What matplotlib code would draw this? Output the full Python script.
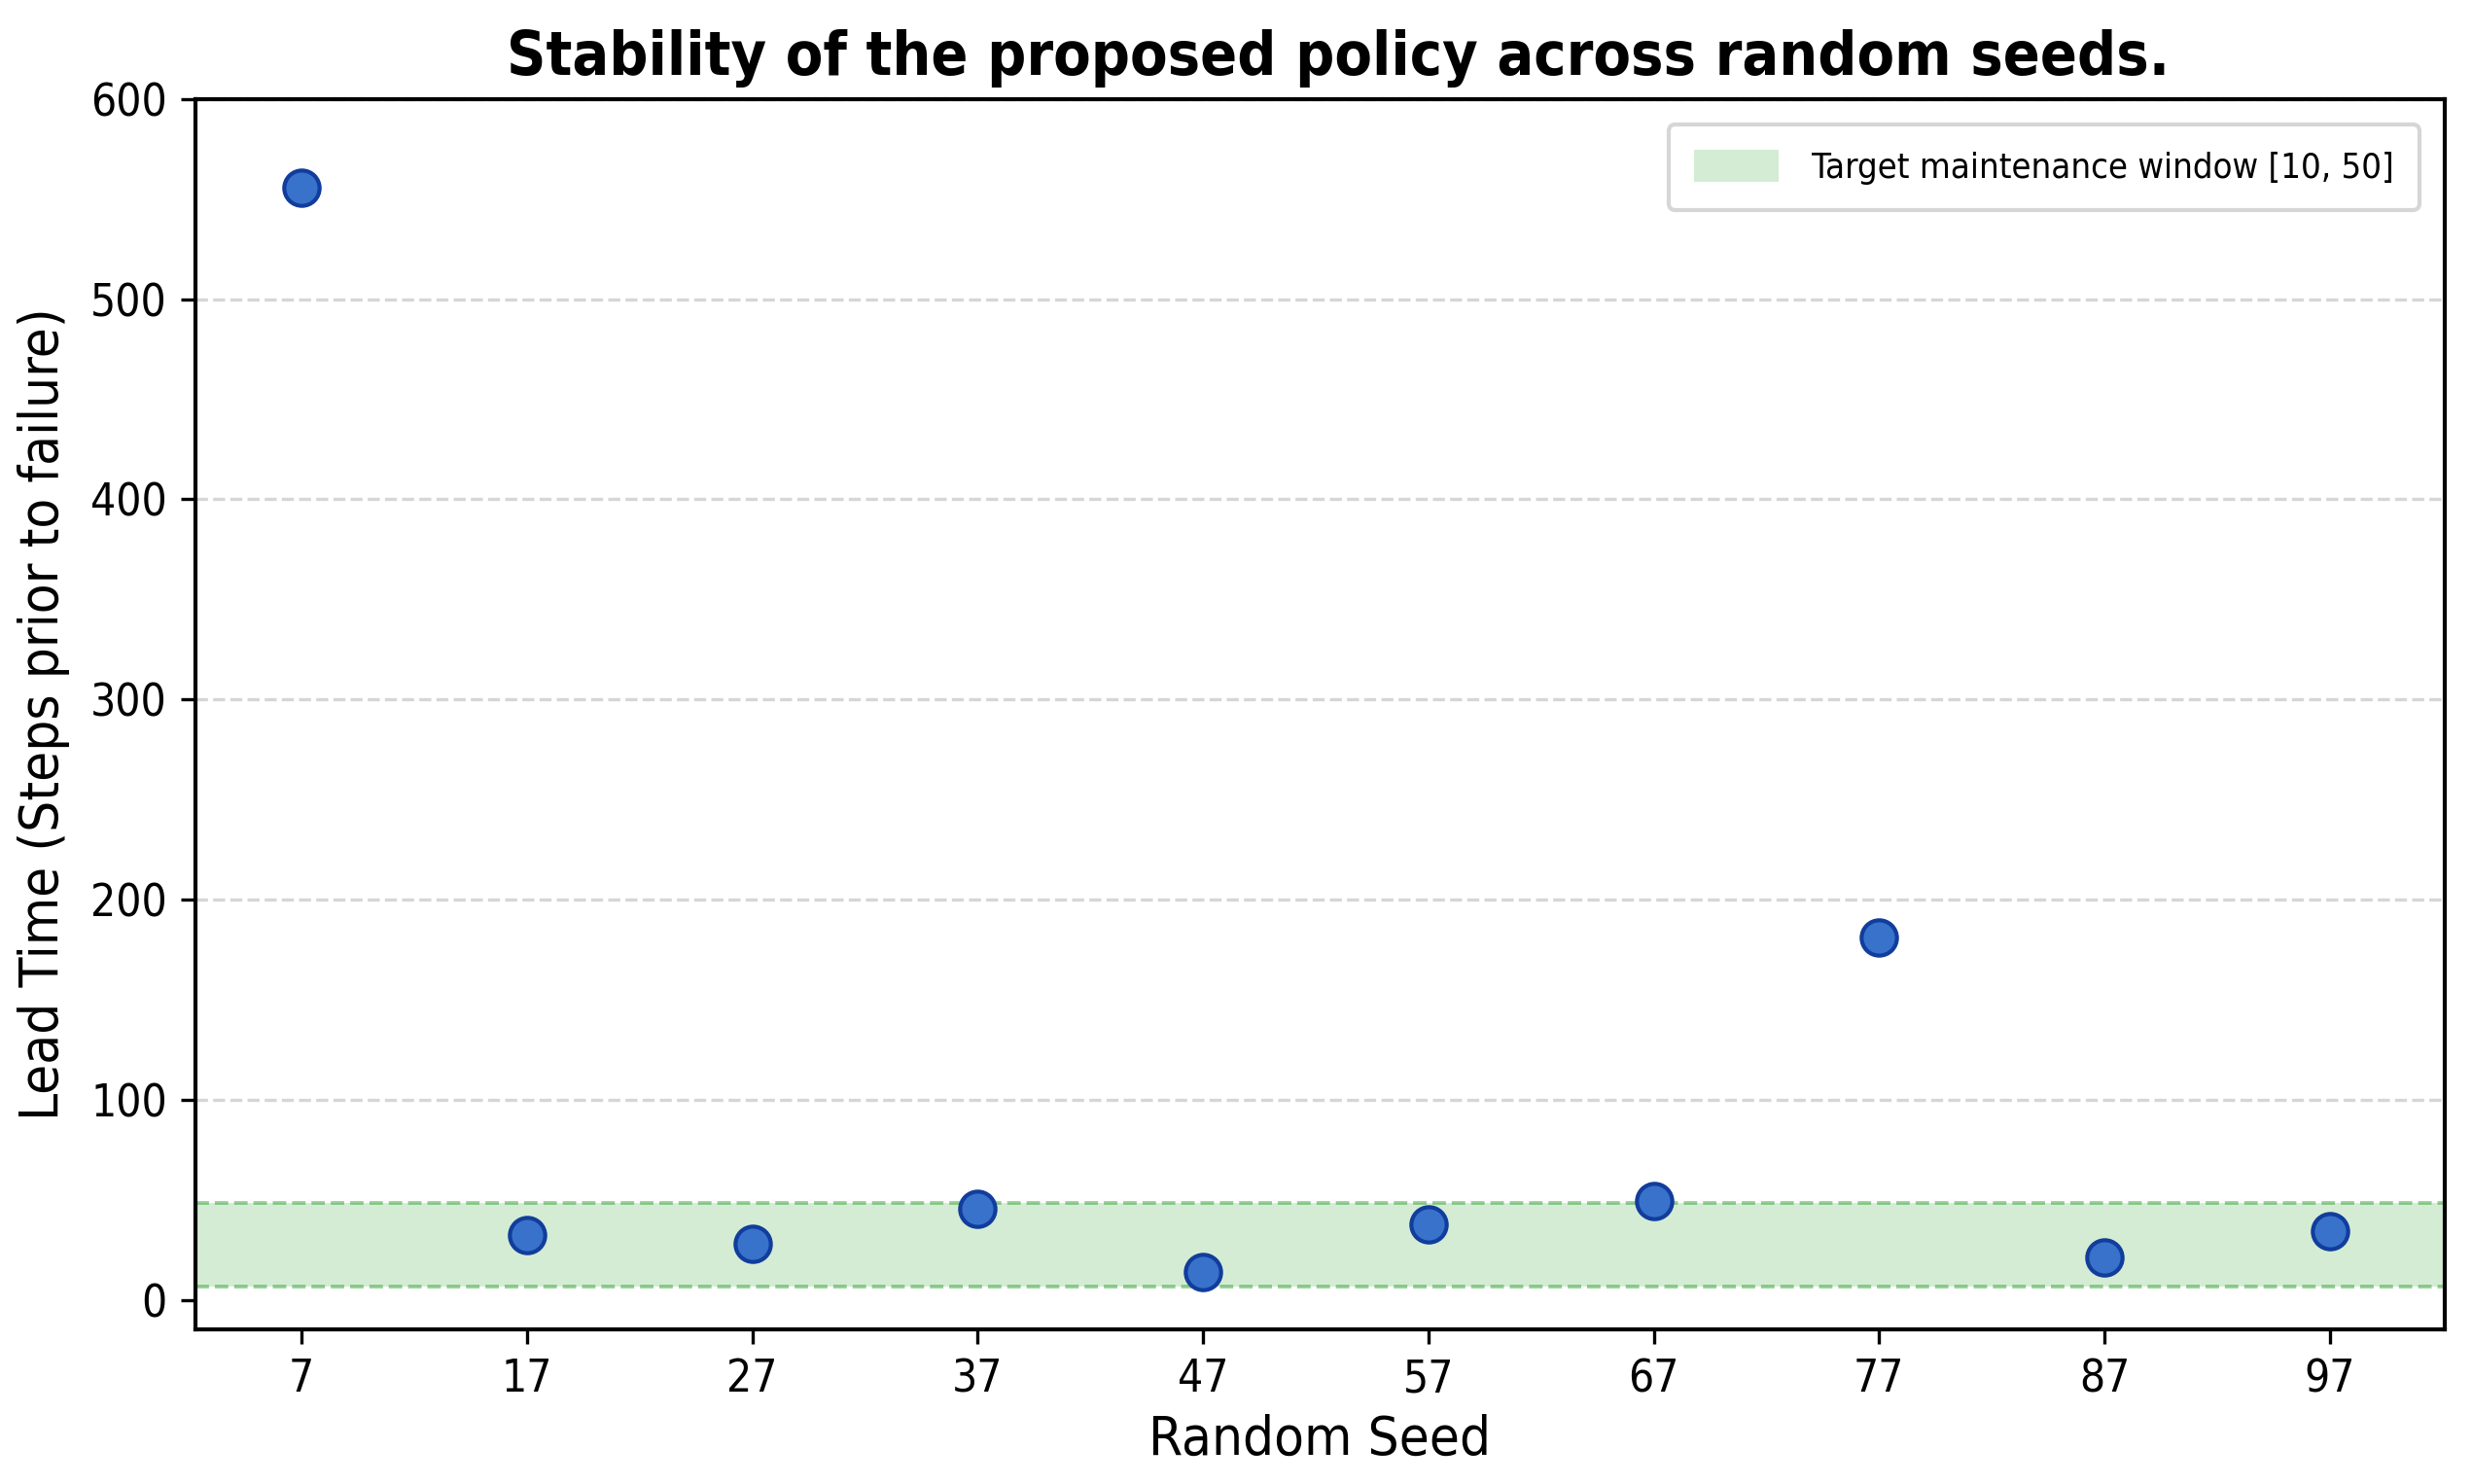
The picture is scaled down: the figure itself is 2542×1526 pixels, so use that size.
import numpy as np
import matplotlib
matplotlib.use("Agg")
import matplotlib.pyplot as plt

# seeds and lead times
seeds = [7, 17, 27, 37, 47, 57, 67, 77, 87, 97]
lead_time = [555.8, 32.3, 27.8, 45.3, 14.1, 37.5, 49.2, 181.2, 21.0, 34.3]
window_low = 6.5
window_high = 48.3
window_label = "Target maintenance window [10, 50]"

plt.rcParams['font.family'] = ['DejaVu Sans']
cond = dict(fontstretch='condensed')

fig = plt.figure(figsize=(2542 / 300, 1526 / 300), dpi=300)
ax = fig.add_axes([0.0791, 0.1042, 0.9099, 0.8290])

ax.axhspan(window_low, window_high, color='#2ca02c', alpha=0.2, lw=0,
           label=window_label, zorder=1)
ax.axhline(window_low, color='#2ca02c', alpha=0.5, ls='--', lw=0.9, zorder=1.5)
ax.axhline(window_high, color='#2ca02c', alpha=0.5, ls='--', lw=0.9, zorder=1.5)

ax.scatter(seeds, lead_time, s=76, facecolor='#3872cb', edgecolor='#113d9c',
           linewidth=1.0, zorder=3)

ax.set_xlim(2.3, 102.1)
ax.set_ylim(-14.8, 600)
ax.set_xticks(seeds)
ax.set_yticks([0, 100, 200, 300, 400, 500, 600])
ax.yaxis.grid(True, ls='--', color='#bbbbbb', alpha=0.6, lw=0.8)
ax.get_ygridlines()[0].set_visible(False)
ax.set_axisbelow(True)

for s in ax.spines.values():
    s.set_linewidth(1.0)

ax.tick_params(labelsize=11)
for t in ax.get_xticklabels() + ax.get_yticklabels():
    t.set_fontstretch('condensed')

ax.set_xlabel("Random Seed", fontsize=13.5, labelpad=3, **cond)
ax.set_ylabel("Lead Time (Steps prior to failure)", fontsize=13.5, labelpad=5, **cond)
ax.set_title("Stability of the proposed policy across random seeds.",
             fontsize=15, fontweight='bold', pad=6, x=0.508, **cond)

leg = ax.legend(loc='upper right', borderpad=0.72, handlelength=2.4,
                handleheight=1.0, handletextpad=0.95, borderaxespad=0.72,
                prop=dict(size=8.7, stretch='condensed'))
leg.get_frame().set_edgecolor('#cccccc')

fig.savefig("out.png", dpi=300)
